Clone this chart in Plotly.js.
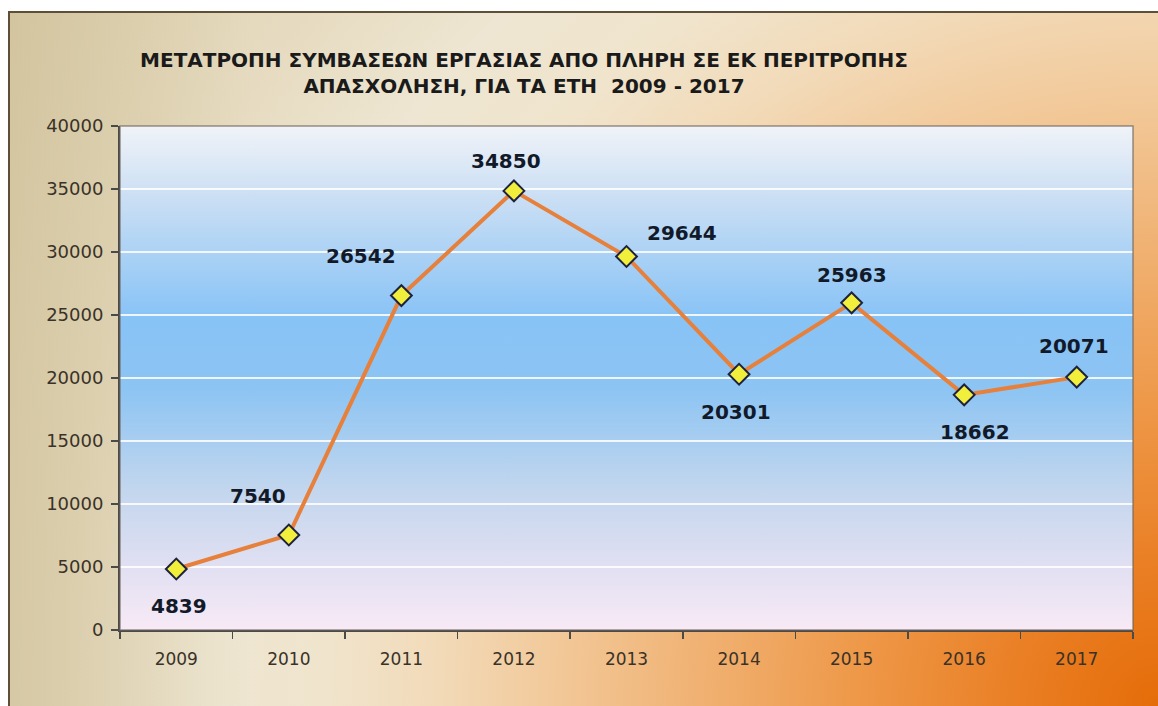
<!DOCTYPE html>
<html>
<head>
<meta charset="utf-8">
<script src="https://cdn.plot.ly/plotly-3.0.1.min.js"></script>
<style>
html,body{margin:0;padding:0;background:#fff;width:1158px;height:706px;overflow:hidden;}
#bg{position:absolute;left:8px;top:11px;width:1150px;height:695px;box-sizing:border-box;
border-left:2px solid #5e5038;border-top:2px solid #5e5038;
background:
 linear-gradient(to right, rgba(200,184,140,0.5) 0px, rgba(200,184,140,0.0) 240px),
 radial-gradient(circle at 100% 100%, #e56c08 0px, #ea8026 150px, #ee9848 300px, #f0b070 450px, #f2c898 600px, #f2dab8 720px, #f0e4cc 830px, #eee6d2 950px, #e6dbc0 1100px, #dccfae 1400px);}
#chart{position:absolute;left:0;top:0;width:1158px;height:706px;}
</style>
</head>
<body>
<div id="bg"></div>
<div id="chart"></div>
<script>
const years = ['2009','2010','2011','2012','2013','2014','2015','2016','2017'];
const values = [4839, 7540, 26542, 34850, 29644, 20301, 25963, 18662, 20071];
const yTicks = [0,5000,10000,15000,20000,25000,30000,35000,40000];
// label offsets in pixels (style): [dx, dy]
const labelShift = [[3,-37],[-31,39],[-40,40],[-8,30],[55,23],[-3,-38],[0,28],[11,-37],[-3,31]];

const gradSvg = '<svg xmlns="http://www.w3.org/2000/svg" width="100" height="100" preserveAspectRatio="none">' +
 '<defs><linearGradient id="g" x1="0" y1="0" x2="0" y2="1">' +
 '<stop offset="0" stop-color="#f0f3f8"/>' +
 '<stop offset="0.14" stop-color="#cbdff4"/>' +
 '<stop offset="0.38" stop-color="#88c3f6"/>' +
 '<stop offset="0.52" stop-color="#8cc4f3"/>' +
 '<stop offset="0.72" stop-color="#c2d6ee"/>' +
 '<stop offset="0.88" stop-color="#e2e0f2"/>' +
 '<stop offset="1" stop-color="#f8eaf6"/>' +
 '</linearGradient></defs><rect width="100" height="100" fill="url(#g)"/></svg>';
const gradUri = 'data:image/svg+xml;base64,' + btoa(gradSvg);

const trace = {
  x: years, y: values, type: 'scatter', mode: 'lines+markers',
  line: {color: '#e6803a', width: 4},
  marker: {symbol: 'diamond', size: 16, color: '#f2ef3c', line: {color: '#1c2240', width: 2}},
  cliponaxis: false, hoverinfo: 'x+y'
};

const annotations = values.map((v, i) => ({
  x: i, y: v, xref: 'x', yref: 'y', text: '<b>' + v + '</b>', showarrow: false,
  xshift: labelShift[i][0], yshift: labelShift[i][1], xanchor: 'center', yanchor: 'middle',
  font: {family: 'DejaVu Sans, sans-serif', size: 20, color: '#121a2a'}
}));

const layout = {
  width: 1158, height: 706,
  margin: {l: 120, r: 25, t: 126, b: 76},
  paper_bgcolor: 'rgba(0,0,0,0)', plot_bgcolor: 'rgba(0,0,0,0)',
  showlegend: false,
  title: {text: '<b>ΜΕΤΑΤΡΟΠΗ ΣΥΜΒΑΣΕΩΝ ΕΡΓΑΣΙΑΣ ΑΠΟ ΠΛΗΡΗ ΣΕ ΕΚ ΠΕΡΙΤΡΟΠΗΣ<br>ΑΠΑΣΧΟΛΗΣΗ, ΓΙΑ ΤΑ ΕΤΗ  2009 - 2017</b>',
    x: 524/1158, xanchor: 'center', xref: 'container', y: 0.905, yanchor: 'middle', yref: 'container',
    font: {family: 'DejaVu Sans, sans-serif', size: 20, color: '#1a1a1a'}},
  xaxis: {type: 'category', range: [-0.5, 8.5], showgrid: false, showline: true, linecolor: '#4a4a4a', linewidth: 2,
    ticks: 'outside', ticklen: 7, tickcolor: '#4a4a4a', tickwidth: 1.5, tickson: 'boundaries',
    tickfont: {family: 'DejaVu Sans, sans-serif', size: 17, color: '#3a3228'},
    ticklabelstandoff: 13, fixedrange: true},
  yaxis: {range: [0, 40000], tickvals: yTicks, ticktext: yTicks.map(String), showgrid: true, gridcolor: 'rgba(255,255,255,0.85)', gridwidth: 2,
    zeroline: false, showline: true, linecolor: '#4a4a4a', linewidth: 2,
    ticks: 'outside', ticklen: 7, tickcolor: '#4a4a4a', tickwidth: 1.5,
    tickfont: {family: 'DejaVu Sans, sans-serif', size: 18, color: '#3a3228'}, ticklabelstandoff: 4, fixedrange: true},
  images: [{source: gradUri, xref: 'paper', yref: 'paper', x: 0, y: 1, sizex: 1, sizey: 1,
    sizing: 'stretch', xanchor: 'left', yanchor: 'top', layer: 'below'}],
  shapes: [{type: 'rect', xref: 'paper', yref: 'paper', x0: 0, x1: 1, y0: 0, y1: 1,
    line: {color: 'rgba(110,100,90,0.7)', width: 1.5}, fillcolor: 'rgba(0,0,0,0)', layer: 'above'}],
  annotations: annotations
};

Plotly.newPlot('chart', [trace], layout, {displayModeBar: false, staticPlot: true});
</script>
</body>
</html>
